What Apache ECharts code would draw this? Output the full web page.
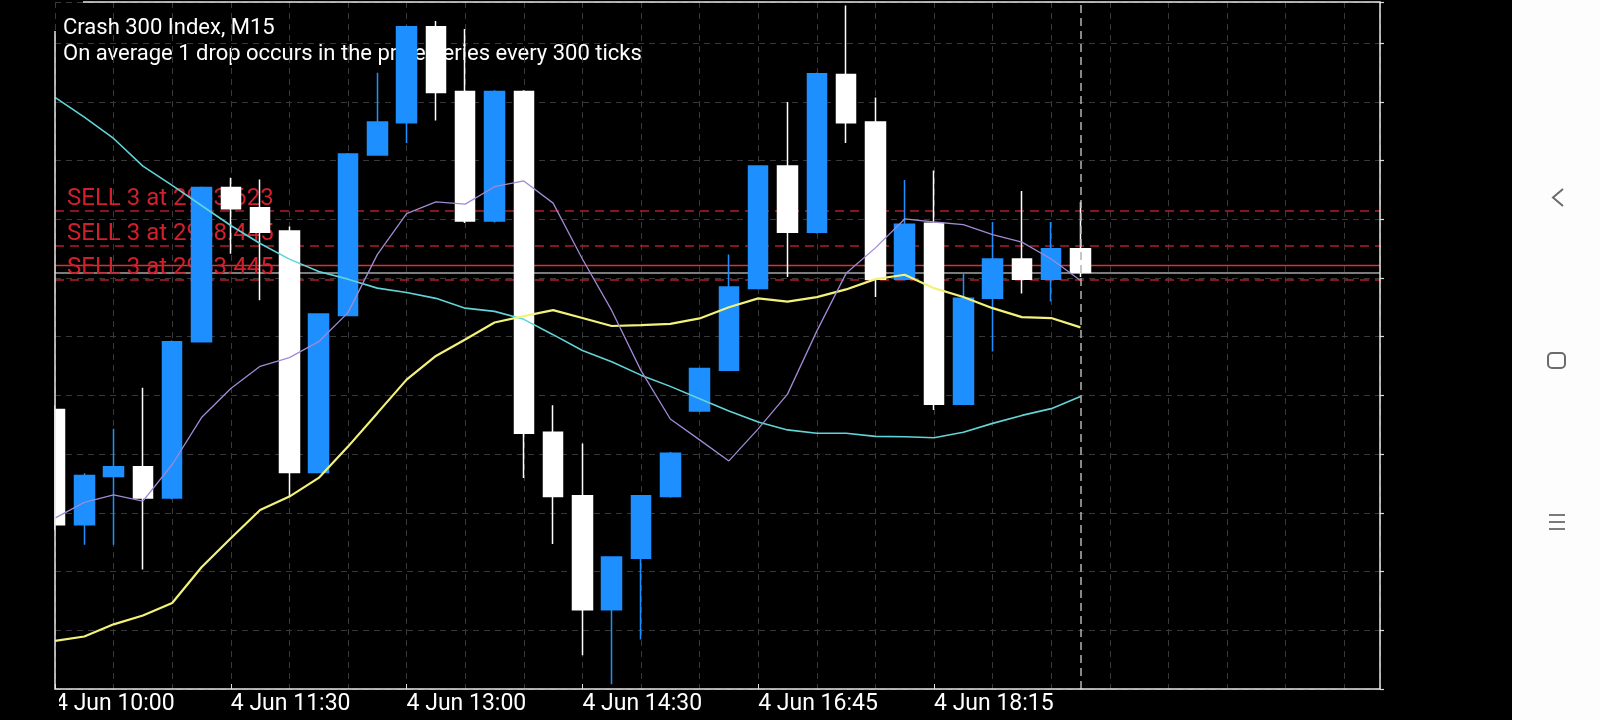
<!DOCTYPE html>
<html>
<head>
<meta charset="utf-8">
<script src="https://cdn.jsdelivr.net/npm/echarts@6/dist/echarts.min.js"></script>
<style>
  html, body { margin: 0; padding: 0; background: #000; }
  #chart { width: 1600px; height: 720px; }
</style>
</head>
<body>
<div id="chart"></div>
<script>
// ---- data ----
const categories = [
  '4 Jun 10:00','4 Jun 10:15','4 Jun 10:30','4 Jun 10:45','4 Jun 11:00','4 Jun 11:15',
  '4 Jun 11:30','4 Jun 11:45','4 Jun 12:00','4 Jun 12:15','4 Jun 12:30','4 Jun 12:45',
  '4 Jun 13:00','4 Jun 13:15','4 Jun 13:30','4 Jun 13:45','4 Jun 14:00','4 Jun 14:15',
  '4 Jun 14:30','4 Jun 14:45','4 Jun 15:00','4 Jun 16:00','4 Jun 16:15','4 Jun 16:30',
  '4 Jun 16:45','4 Jun 17:00','4 Jun 17:15','4 Jun 17:30','4 Jun 17:45','4 Jun 18:00',
  '4 Jun 18:15','4 Jun 18:30','4 Jun 18:45','4 Jun 19:00','4 Jun 19:15','4 Jun 19:30',
  '4 Jun 19:45','4 Jun 20:00','4 Jun 20:15','4 Jun 20:30','4 Jun 20:45','4 Jun 21:00',
  '4 Jun 21:15','4 Jun 21:30','4 Jun 21:45','4 Jun 22:00'
];
const tickLabels = ['4 Jun 10:00','4 Jun 11:30','4 Jun 13:00','4 Jun 14:30','4 Jun 16:45','4 Jun 18:15'];

const opens  = [2934.44,2917.53,2924.62,2926.06,2921.46,2944.41,2967.03,2964.08,2960.67,2925.21,2948.27,2971.82,
                2976.53,2990.63,2981.13,2962.11,2981.13,2931.11,2921.80,2905.07,2912.62,2921.67,2934.25,2940.23,
                2952.21,2970.19,2960.48,2983.61,2976.66,2953.59,2961.79,2935.24,2950.77,2956.54,2953.59,2958.04];
const closes = [2917.53,2924.75,2926.06,2921.46,2944.41,2967.03,2963.94,2960.48,2925.21,2948.48,2971.95,2976.66,
                2990.63,2980.99,2962.11,2981.13,2930.98,2921.67,2905.07,2912.81,2921.80,2928.03,2940.48,2952.42,
                2970.19,2960.48,2983.74,2976.53,2953.59,2961.65,2935.24,2950.77,2956.54,2953.59,2958.04,2954.58];
const lows   = [2916.74,2914.59,2914.59,2910.98,2921.30,2944.30,2957.32,2950.51,2921.67,2925.10,2948.20,2971.70,
                2973.58,2976.87,2961.82,2961.90,2924.41,2914.71,2898.39,2894.12,2900.69,2921.50,2934.10,2940.10,
                2952.10,2953.92,2960.30,2973.58,2950.96,2953.40,2934.39,2935.10,2942.97,2951.49,2950.32,2953.92];
const highs  = [2935.09,2925.10,2931.62,2937.66,2944.60,2967.20,2968.47,2968.20,2961.33,2948.60,2972.10,2983.87,
                2990.80,2991.48,2990.30,2981.30,2981.30,2935.09,2929.47,2912.90,2921.90,2928.20,2940.60,2957.19,
                2970.30,2979.61,2983.90,2993.77,2980.27,2968.14,2969.52,2954.44,2961.98,2966.51,2961.98,2964.93];

const maSlow = [2980.27,2977.38,2974.24,2970.19,2967.35,2964.40,2961.46,2958.83,2956.53,2954.71,2953.59,2952.27,
                2951.62,2950.77,2949.33,2948.86,2947.69,2945.44,2943.11,2941.46,2939.50,2937.85,2936.02,2934.25,
                2932.61,2931.46,2930.98,2930.98,2930.51,2930.45,2930.32,2931.11,2932.42,2933.59,2934.58,2936.35];
const maMid  = [2900.49,2901.14,2902.92,2904.22,2906.06,2911.30,2915.56,2919.70,2921.67,2924.41,2929.01,2933.92,
                2938.84,2942.32,2944.74,2947.23,2948.16,2949.04,2947.88,2946.71,2946.84,2947.03,2947.82,2949.47,
                2950.77,2950.29,2950.96,2952.08,2953.59,2954.24,2952.27,2950.96,2949.33,2948.01,2947.88,2946.51];
const maFast = [2918.51,2920.82,2921.93,2921.01,2926.38,2933.27,2937.53,2940.80,2942.07,2944.41,2948.67,2957.19,
                2963.22,2964.93,2964.60,2967.16,2968.01,2964.75,2956.54,2949.00,2940.16,2933.06,2930.00,2926.91,
                2931.62,2936.71,2945.96,2954.44,2958.18,2962.43,2961.98,2961.58,2960.14,2959.02,2956.54,2953.39];

const sellPrices = [2963.623, 2958.445, 2953.445];
const askPrice = 2955.65;
const bidPrice = 2954.58;
const priceMin = 2893.43;
const priceMax = 2994.27;

// ---- chart ----
const chart = echarts.init(document.getElementById('chart'), null, { renderer: 'canvas' });
const labelIdx = new Set(tickLabels.map(t => categories.indexOf(t)));
const showLabel = (idx) => labelIdx.has(idx);
const gridLine = { show: true, lineStyle: { color: '#383838', width: 1, type: [6, 5] } };

const orderLines = sellPrices.map(p => ({
  yAxis: p,
  lineStyle: { color: '#b01e2c', type: [9, 6], width: 1.5 },
  label: {
    show: true, position: 'insideStartTop', formatter: 'SELL 3 at ' + p.toFixed(3),
    color: '#d21f2d', fontSize: 24, fontFamily: 'Roboto', distance: [12, 0]
  }
}));
orderLines.push({ yAxis: askPrice, lineStyle: { color: '#d83232', type: 'solid', width: 1.3 }, label: { show: false } });
orderLines.push({ yAxis: bidPrice, lineStyle: { color: '#a6a6a6', type: 'solid', width: 1.6 }, label: { show: false } });

const option = {
  backgroundColor: '#000000',
  animation: false,
  grid: [
    { left: 55, top: 2, width: 1325, height: 687 },
    { left: 55, top: 2, width: 1318.5, height: 687 }
  ],
  xAxis: [
    { gridIndex: 0, type: 'value', min: 0, max: 45.22, interval: 2,
      axisLine: { show: false }, axisTick: { show: false }, axisLabel: { show: false },
      splitLine: gridLine },
    { gridIndex: 1, type: 'category', data: categories, boundaryGap: false,
      axisLine: { show: false },
      axisTick: { show: true, interval: showLabel, inside: true, length: 5, lineStyle: { color: '#e0e0e0', width: 1 } },
      axisLabel: { interval: showLabel, align: 'left', color: '#ffffff', fontSize: 23, fontFamily: 'Roboto', margin: 4 },
      splitLine: { show: false } }
  ],
  yAxis: [
    { gridIndex: 0, type: 'value', min: priceMin, max: priceMax, show: false },
    { gridIndex: 0, type: 'value', position: 'right', min: 0, max: 11.7, interval: 1,
      axisLine: { show: false },
      axisTick: { show: true, inside: false, length: 4, lineStyle: { color: '#d8d8d8', width: 1.2 } },
      axisLabel: { show: false }, splitLine: gridLine },
    { gridIndex: 1, type: 'value', min: priceMin, max: priceMax, show: false }
  ],
  graphic: [
    { type: 'text', x: 63, y: 28, z: 0, style: { text: 'Crash 300 Index, M15', fill: '#ffffff', font: '22px Roboto', verticalAlign: 'middle' } },
    { type: 'text', x: 63, y: 54, z: 0, style: { text: 'On average 1 drop occurs in the price series every 300 ticks', fill: '#ffffff', font: '22px Roboto', verticalAlign: 'middle' } },
    // outside-of-plot masks (chart window edge)
    { type: 'rect', z: 20, shape: { x: 0, y: 0, width: 54.2, height: 690 }, style: { fill: '#000000' } },
    { type: 'rect', z: 20, shape: { x: 0, y: 690, width: 59, height: 30 }, style: { fill: '#000000' } },
    { type: 'polyline', z: 21, shape: { points: [[83, 2], [1380, 2], [1380, 689], [55, 689], [55, 31]] },
      style: { stroke: '#e8e8e8', lineWidth: 1.5, fill: null } },
    // navigation bar
    { type: 'rect', z: 21, shape: { x: 1512, y: 0, width: 88, height: 720 }, style: { fill: '#fdfdfd' } },
    { type: 'polyline', z: 22, shape: { points: [[1563, 189], [1553, 197.5], [1563, 206]] },
      style: { stroke: '#6b6b6b', lineWidth: 2, fill: null } },
    { type: 'rect', z: 22, shape: { x: 1548, y: 353, width: 17, height: 15, r: 4 },
      style: { stroke: '#6b6b6b', lineWidth: 2, fill: null } },
    { type: 'line', z: 22, shape: { x1: 1549, y1: 515, x2: 1565, y2: 515 }, style: { stroke: '#6b6b6b', lineWidth: 1.8 } },
    { type: 'line', z: 22, shape: { x1: 1549, y1: 522, x2: 1565, y2: 522 }, style: { stroke: '#6b6b6b', lineWidth: 1.8 } },
    { type: 'line', z: 22, shape: { x1: 1549, y1: 529, x2: 1565, y2: 529 }, style: { stroke: '#6b6b6b', lineWidth: 1.8 } }
  ],
  series: [
    { name: 'orders', type: 'line', xAxisIndex: 0, yAxisIndex: 0, data: [], z: 1,
      markLine: { z: 1, silent: true, symbol: ['none', 'none'], data: orderLines } },
    { name: 'Crash 300 Index', type: 'candlestick', xAxisIndex: 1, yAxisIndex: 2, z: 2,
      barWidth: 20,
      data: opens.map((o, i) => [o, closes[i], lows[i], highs[i]]),
      itemStyle: { color: '#1e8fff', color0: '#ffffff', borderColor: '#1e8fff', borderColor0: '#ffffff', borderWidth: 1.5 },
      markLine: { silent: true, symbol: ['none', 'none'], label: { show: false },
        lineStyle: { color: '#b4b4b4', type: [8, 5], width: 1.5 },
        data: [{ xAxis: categories[opens.length - 1] }] } },
    { name: 'MA slow', type: 'line', xAxisIndex: 1, yAxisIndex: 2, data: maSlow, z: 3,
      showSymbol: false, lineStyle: { color: '#62d4d8', width: 1.6 } },
    { name: 'MA mid', type: 'line', xAxisIndex: 1, yAxisIndex: 2, data: maMid, z: 3,
      showSymbol: false, lineStyle: { color: '#f2f27a', width: 2.2 } },
    { name: 'MA fast', type: 'line', xAxisIndex: 1, yAxisIndex: 2, data: maFast, z: 3,
      showSymbol: false, lineStyle: { color: '#a08ad2', width: 1.3 } }
  ]
};
chart.setOption(option);
</script>
</body>
</html>
